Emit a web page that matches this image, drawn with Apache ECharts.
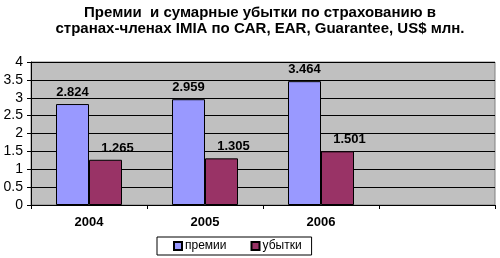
<!DOCTYPE html>
<html><head><meta charset="utf-8">
<script src="https://cdn.jsdelivr.net/npm/echarts@6/dist/echarts.min.js"></script>
<style>html,body{margin:0;padding:0;background:#fff}#c{width:500px;height:258px}</style>
</head><body><div id="c"></div>
<script>
const titleText = 'Премии  и сумарные убытки по страхованию в\nстранах-членах IMIA по CAR, EAR, Guarantee, US$ млн.';
const categories = ['2004', '2005', '2006', ''];
const yTicks = [0, 0.5, 1, 1.5, 2, 2.5, 3, 3.5, 4];
const premiums = [2.824, 2.959, 3.464];
const losses = [1.265, 1.305, 1.501];
const seriesNames = ['премии', 'убытки'];

const chart = echarts.init(document.getElementById('c'), null, {renderer: 'canvas'});
const font = 'Liberation Sans, Arial, sans-serif';
chart.setOption({
  animation: false,
  title: {
    text: titleText, left: 255, textAlign: 'center', top: 0,
    textStyle: {fontFamily: font, fontSize: 15, fontWeight: 'bold', color: '#000', lineHeight: 16}
  },
  grid: {left: 31, right: 5, top: 62, bottom: 53, show: true, backgroundColor: '#C0C0C0', borderColor: '#808080', borderWidth: 1},
  legend: {
    data: seriesNames, left: 157, top: 237, orient: 'horizontal',
    itemWidth: 8, itemHeight: 8, itemGap: 24,
    padding: [3, 10, 3, 16],
    borderColor: '#000', borderWidth: 1,
    icon: 'rect',
    textStyle: {fontFamily: font, fontSize: 12, color: '#000', padding: [0, 0, 0, -2]}
  },
  xAxis: {
    type: 'category', data: categories,
    axisLine: {lineStyle: {color: '#000', width: 1}},
    axisTick: {show: true, length: 4, lineStyle: {color: '#000'}},
    axisLabel: {fontFamily: font, fontSize: 13, fontWeight: 'bold', color: '#000', margin: 11}
  },
  yAxis: {
    type: 'value', min: yTicks[0], max: yTicks[yTicks.length - 1], interval: 0.5,
    axisLine: {show: true, lineStyle: {color: '#000', width: 1}},
    axisTick: {show: true, length: 4, lineStyle: {color: '#000'}},
    axisLabel: {fontFamily: font, fontSize: 14, color: '#000', margin: 8},
    splitLine: {show: true, lineStyle: {color: '#000', width: 1}}
  },
  series: [
    {
      name: seriesNames[0], type: 'bar', data: premiums, barWidth: 33, barGap: '0%',
      itemStyle: {color: '#9999FF', borderColor: '#000', borderWidth: 1},
      label: {show: true, position: 'top', distance: 5, formatter: p => p.value.toFixed(3),
        fontFamily: font, fontSize: 13, fontWeight: 'bold', color: '#000'}
    },
    {
      name: seriesNames[1], type: 'bar', data: losses, barWidth: 33, barGap: '0%',
      itemStyle: {color: '#993366', borderColor: '#000', borderWidth: 1},
      label: {show: true, position: 'top', distance: 5, offset: [12, 0], formatter: p => p.value.toFixed(3),
        fontFamily: font, fontSize: 13, fontWeight: 'bold', color: '#000'}
    }
  ]
});
</script></body></html>
